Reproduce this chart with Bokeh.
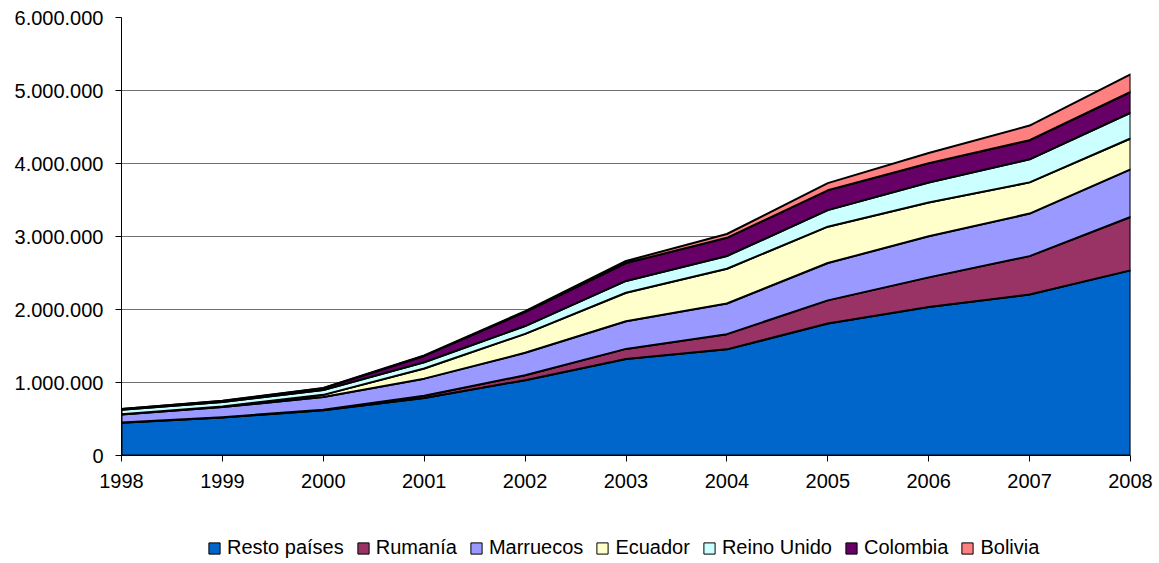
import numpy as np
from bokeh.plotting import figure
from bokeh.layouts import column
from bokeh.models import FixedTicker, Range1d, Legend, LegendItem
from bokeh.embed import file_html
from bokeh.resources import INLINE

years = [1998, 1999, 2000, 2001, 2002, 2003, 2004, 2005, 2006, 2007, 2008]

resto = [448601, 521781, 620387, 787751, 1031826, 1322922, 1454063, 1807778, 2033020, 2204265, 2536099]
rumania = [2000, 3000, 6410, 31641, 67279, 137347, 207960, 317366, 407159, 527019, 731806]
marruecos = [111100, 140000, 173158, 233415, 307458, 378979, 420556, 511294, 563012, 582923, 652695]
ecuador = [3972, 7046, 30878, 139022, 259522, 390297, 475698, 497799, 461310, 427099, 421527]
reino_unido = [60000, 62000, 65000, 85000, 107326, 161507, 174810, 227187, 274722, 315957, 352957]
colombia = [10412, 13627, 24702, 87209, 191018, 244684, 248894, 271239, 265141, 261542, 284581]
bolivia = [1000, 1500, 3344, 6619, 13517, 28432, 52345, 97947, 139802, 200749, 240912]

names = ["Resto países", "Rumanía", "Marruecos", "Ecuador", "Reino Unido", "Colombia", "Bolivia"]
series = [resto, rumania, marruecos, ecuador, reino_unido, colombia, bolivia]
colors = ["#0066CC", "#993366", "#9999FF", "#FFFFCC", "#CCFFFF", "#660066", "#FF8080"]

y_ticks = [0, 1000000, 2000000, 3000000, 4000000, 5000000, 6000000]
y_labels = ["0", "1.000.000", "2.000.000", "3.000.000", "4.000.000", "5.000.000", "6.000.000"]
x_labels = [str(y) for y in years]

FONT = "Liberation Sans"

p = figure(width=1159, height=500, output_backend="svg", toolbar_location=None,
           x_range=Range1d(1998, 2008), y_range=Range1d(0, 6000000),
           min_border_left=121, min_border_right=29, min_border_top=17, min_border_bottom=45)
p.outline_line_color = None
p.background_fill_color = "white"
p.border_fill_color = "white"

cum = np.cumsum(np.array(series, dtype=float), axis=0)
bottom = np.zeros(len(years))
for i, (name, col) in enumerate(zip(names, colors)):
    top = cum[i]
    xs = list(years) + list(years[::-1])
    ys = list(top) + list(bottom[::-1])
    p.patch(xs, ys, fill_color=col, line_color="black", line_width=2, line_join="round")
    bottom = top

p.xaxis.ticker = FixedTicker(ticks=years)
p.xaxis.major_label_overrides = dict(zip(years, x_labels))
p.yaxis.ticker = FixedTicker(ticks=y_ticks)
p.yaxis.major_label_overrides = dict(zip(y_ticks, y_labels))

for ax in (p.xaxis, p.yaxis):
    ax.axis_line_color = "black"
    ax.axis_line_width = 1
    ax.major_tick_line_color = "black"
    ax.major_tick_out = 6
    ax.major_tick_in = 0
    ax.minor_tick_line_color = None
    ax.major_label_text_font = FONT
    ax.major_label_text_font_size = "20px"
    ax.major_label_text_color = "black"
p.xaxis.major_label_standoff = 12
p.yaxis.major_label_standoff = 12

p.xgrid.visible = False
p.ygrid.ticker = FixedTicker(ticks=y_ticks)
p.ygrid.grid_line_color = "#707070"
p.ygrid.grid_line_width = 1

# legend strip below the chart (its frame is aligned with the chart's frame)
lg = figure(width=1159, height=63, output_backend="svg", toolbar_location=None,
            x_range=Range1d(0, 1), y_range=Range1d(0, 1),
            x_axis_type=None, y_axis_type=None,
            min_border_left=0, min_border_right=0, min_border_top=0, min_border_bottom=0)
lg.outline_line_color = None
lg.xgrid.visible = False
lg.ygrid.visible = False
items = []
for name, col in zip(names, colors):
    r = lg.quad(left=[5], right=[6], top=[6], bottom=[5], fill_color=col,
                line_color="black", line_width=1)
    items.append(LegendItem(label=name, renderers=[r]))
legend = Legend(items=items, orientation="horizontal", location=(86, 4),
                glyph_width=14, glyph_height=14, label_standoff=6, spacing=12,
                label_text_font=FONT, label_text_font_size="20px", label_text_color="black",
                border_line_color=None, background_fill_alpha=0, margin=0, padding=0)
lg.add_layout(legend, "center")

layout = column(p, lg, spacing=0)
open("out.html", "w").write(file_html(layout, INLINE))
